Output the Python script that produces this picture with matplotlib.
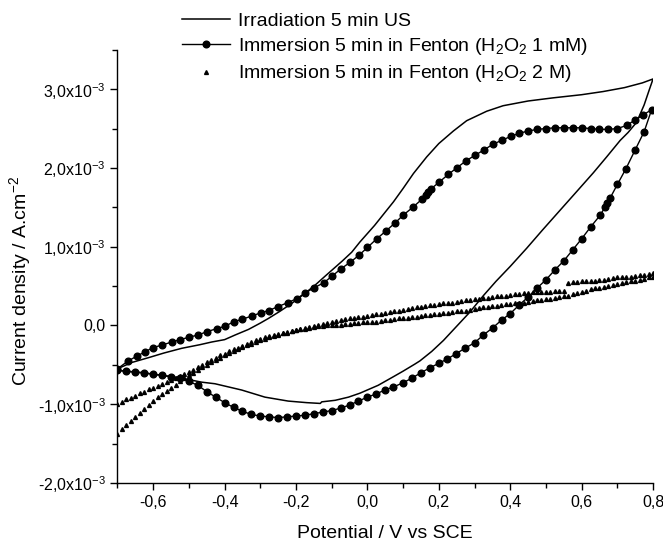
import matplotlib
matplotlib.use("Agg")
import matplotlib.pyplot as plt
import numpy as np

plt.rcParams['font.family'] = ['Liberation Sans', 'DejaVu Sans']
plt.rcParams['mathtext.fontset'] = 'custom'
plt.rcParams['mathtext.rm'] = 'Liberation Sans'
plt.rcParams['mathtext.it'] = 'Liberation Sans:italic'
plt.rcParams['mathtext.bf'] = 'Liberation Sans:bold'

# current density values in units of 1e-3 A.cm-2
# Irradiation 5 min US (full CV loop, forward then reverse)
us_v = [-0.70, -0.66, -0.614, -0.57, -0.52, -0.47, -0.436, -0.40, -0.37, -0.333,
        -0.30, -0.277, -0.245, -0.212, -0.18, -0.147, -0.12, -0.10, -0.07, -0.044,
        -0.021, 0.02, 0.05, 0.073, 0.10, 0.129, 0.166, 0.20, 0.241, 0.278,
        0.306, 0.334, 0.38, 0.45, 0.52, 0.60, 0.66, 0.72, 0.77, 0.80,
        0.79, 0.775, 0.754, 0.73, 0.708, 0.67, 0.633, 0.59, 0.539, 0.49,
        0.446, 0.40, 0.36, 0.325, 0.287, 0.25, 0.213, 0.18, 0.147, 0.133,
        0.10, 0.073, 0.03, -0.021, -0.053, -0.09, -0.128, -0.132, -0.17, -0.222,
        -0.287, -0.352, -0.427, -0.464, -0.52, -0.614, -0.70]
us_j = [-0.55, -0.47, -0.41, -0.35, -0.29, -0.245, -0.21, -0.18, -0.12, -0.05,
        0.03, 0.09, 0.18, 0.28, 0.39, 0.51, 0.62, 0.70, 0.82, 0.93,
        1.06, 1.27, 1.44, 1.57, 1.74, 1.93, 2.14, 2.31, 2.47, 2.60,
        2.66, 2.72, 2.79, 2.85, 2.89, 2.93, 2.97, 3.02, 3.08, 3.13,
        3.00, 2.80, 2.58, 2.45, 2.35, 2.14, 1.94, 1.72, 1.46, 1.21,
        0.98, 0.75, 0.56, 0.38, 0.17, -0.01, -0.19, -0.33, -0.45, -0.49,
        -0.58, -0.65, -0.76, -0.86, -0.91, -0.95, -0.97, -0.99, -0.98, -0.96,
        -0.91, -0.82, -0.74, -0.72, -0.67, -0.61, -0.57]

# Immersion 5 min in Fenton (H2O2 1 mM)
f1_v = [-0.70, -0.67, -0.646, -0.623, -0.60, -0.576, -0.548, -0.525, -0.50, -0.474,
        -0.45, -0.422, -0.399, -0.373, -0.35, -0.324, -0.299, -0.276, -0.25, -0.223,
        -0.198, -0.175, -0.149, -0.123, -0.098, -0.074, -0.049, -0.024, 0.0, 0.026,
        0.052, 0.077, 0.10, 0.127, 0.152, 0.163, 0.170, 0.177, 0.201, 0.227,
        0.25, 0.276, 0.301, 0.327, 0.351, 0.376, 0.401, 0.425, 0.451, 0.476,
        0.50, 0.525, 0.551, 0.575, 0.60, 0.625, 0.65, 0.675, 0.70, 0.726,
        0.75, 0.771, 0.796,
        0.775, 0.75, 0.724, 0.70, 0.68, 0.672, 0.665, 0.652, 0.625, 0.60,
        0.575, 0.55, 0.526, 0.50, 0.474, 0.45, 0.425, 0.40, 0.376, 0.351,
        0.325, 0.30, 0.273, 0.248, 0.222, 0.20, 0.174, 0.15, 0.124, 0.099,
        0.073, 0.049, 0.024, 0.0, -0.025, -0.05, -0.075, -0.10, -0.125, -0.15,
        -0.175, -0.20, -0.225, -0.25, -0.275, -0.30, -0.325, -0.35, -0.375, -0.40,
        -0.425, -0.45, -0.475, -0.50, -0.525, -0.55, -0.575, -0.60, -0.625, -0.65,
        -0.675, -0.70]
f1_j = [-0.55, -0.45, -0.39, -0.335, -0.28, -0.25, -0.21, -0.18, -0.15, -0.12,
        -0.08, -0.04, -0.01, 0.05, 0.08, 0.12, 0.16, 0.19, 0.24, 0.29,
        0.34, 0.41, 0.48, 0.54, 0.63, 0.72, 0.80, 0.89, 0.99, 1.10,
        1.20, 1.30, 1.40, 1.50, 1.60, 1.66, 1.69, 1.73, 1.82, 1.92,
        2.00, 2.09, 2.16, 2.23, 2.30, 2.35, 2.40, 2.44, 2.47, 2.49,
        2.50, 2.51, 2.51, 2.51, 2.51, 2.50, 2.49, 2.49, 2.50, 2.54,
        2.61, 2.67, 2.74,
        2.46, 2.23, 1.99, 1.79, 1.62, 1.55, 1.50, 1.40, 1.25, 1.10,
        0.96, 0.82, 0.71, 0.58, 0.47, 0.36, 0.26, 0.15, 0.07, -0.03,
        -0.12, -0.22, -0.29, -0.36, -0.43, -0.48, -0.54, -0.60, -0.67, -0.73,
        -0.78, -0.82, -0.87, -0.91, -0.96, -1.01, -1.05, -1.08, -1.10, -1.12,
        -1.14, -1.15, -1.16, -1.17, -1.16, -1.15, -1.13, -1.09, -1.04, -0.98,
        -0.91, -0.84, -0.76, -0.71, -0.67, -0.65, -0.63, -0.62, -0.60, -0.59,
        -0.58, -0.57]

# Immersion 5 min in Fenton (H2O2 2 M): sampled every 12.5 mV
f2_v = np.linspace(-0.7, 0.8, 121)
f2_up = [-1.38, -1.32, -1.27, -1.21, -1.16, -1.11, -1.06, -1.01, -0.96, -0.91,
         -0.87, -0.83, -0.79, -0.75, -0.71, -0.67, -0.63, -0.60, -0.56, -0.53,
         -0.50, -0.47, -0.44, -0.41, -0.38, -0.35, -0.32, -0.30, -0.27, -0.25,
         -0.23, -0.21, -0.19, -0.17, -0.15, -0.14, -0.12, -0.10, -0.09, -0.07,
         -0.06, -0.05, -0.03, -0.02, -0.01, 0.01, 0.02, 0.03, 0.05, 0.06,
         0.07, 0.08, 0.09, 0.10, 0.11, 0.11, 0.12, 0.13, 0.14, 0.15,
         0.16, 0.17, 0.18, 0.19, 0.20, 0.21, 0.22, 0.23, 0.24, 0.25,
         0.26, 0.26, 0.27, 0.28, 0.29, 0.29, 0.30, 0.31, 0.32, 0.32,
         0.33, 0.34, 0.35, 0.35, 0.36, 0.37, 0.38, 0.38, 0.39, 0.40,
         0.40, 0.41, 0.41, 0.42, 0.42, 0.43, 0.43, 0.43, 0.44, 0.44,
         0.44, 0.54, 0.55, 0.55, 0.56, 0.56, 0.57, 0.57, 0.58, 0.58,
         0.59, 0.60, 0.61, 0.61, 0.62, 0.62, 0.63, 0.64, 0.64, 0.65,
         0.66]
f2_low = [-1.00, -0.97, -0.94, -0.915, -0.89, -0.86, -0.84, -0.81, -0.79, -0.77,
          -0.745, -0.72, -0.69, -0.67, -0.64, -0.61, -0.59, -0.56, -0.53, -0.50,
          -0.47, -0.44, -0.41, -0.38, -0.36, -0.33, -0.30, -0.28, -0.26, -0.23,
          -0.21, -0.19, -0.17, -0.15, -0.14, -0.12, -0.11, -0.09, -0.08, -0.07,
          -0.06, -0.05, -0.04, -0.03, -0.02, -0.01, -0.01, 0.00, 0.00, 0.01,
          0.01, 0.02, 0.02, 0.03, 0.03, 0.04, 0.04, 0.05, 0.05, 0.06,
          0.07, 0.07, 0.08, 0.09, 0.09, 0.10, 0.11, 0.11, 0.12, 0.13,
          0.13, 0.14, 0.15, 0.16, 0.16, 0.17, 0.18, 0.19, 0.19, 0.20,
          0.21, 0.22, 0.23, 0.24, 0.25, 0.25, 0.26, 0.27, 0.27, 0.28,
          0.29, 0.29, 0.30, 0.31, 0.32, 0.32, 0.33, 0.34, 0.35, 0.36,
          0.37, 0.38, 0.40, 0.41, 0.42, 0.44, 0.46, 0.47, 0.48, 0.49,
          0.50, 0.52, 0.53, 0.54, 0.55, 0.56, 0.57, 0.58, 0.59, 0.61,
          0.62]

labels = ['Irradiation 5 min US',
          r'Immersion 5 min in Fenton (H$_2$O$_2$ 1 mM)',
          r'Immersion 5 min in Fenton (H$_2$O$_2$ 2 M)']

x_major = [-0.6, -0.4, -0.2, 0.0, 0.2, 0.4, 0.6, 0.8]
x_labels = ['-0,6', '-0,4', '-0,2', '0,0', '0,2', '0,4', '0,6', '0,8']
y_major = [-2e-3, -1e-3, 0.0, 1e-3, 2e-3, 3e-3]
y_labels = [r'-2,0x10$^{\mathregular{-3}}$', r'-1,0x10$^{\mathregular{-3}}$', '0,0',
            r'1,0x10$^{\mathregular{-3}}$', r'2,0x10$^{\mathregular{-3}}$',
            r'3,0x10$^{\mathregular{-3}}$']

fig = plt.figure(figsize=(6.63, 5.45), dpi=100)
ax = fig.add_axes([0.1772, 0.1138, 0.985 - 0.1772, 0.9086 - 0.1138])

k = 1e-3
l1, = ax.plot(us_v, np.array(us_j) * k, color='black', lw=1.1)
l2, = ax.plot(f1_v, np.array(f1_j) * k, color='black', lw=1.0,
              marker='o', markersize=4.8)
l3, = ax.plot(np.concatenate([f2_v, f2_v]),
              np.concatenate([f2_up, f2_low]) * k,
              linestyle='none', color='black', marker='^', markersize=2.8)

ax.set_xlim(-0.7, 0.8)
ax.set_ylim(-2e-3, 3.5e-3)
ax.spines['top'].set_visible(False)
ax.spines['right'].set_visible(False)
for s in ['left', 'bottom']:
    ax.spines[s].set_linewidth(1.0)

ax.set_xticks(x_major)
ax.set_xticklabels(x_labels)
ax.set_xticks(np.arange(-0.7, 0.8, 0.2), minor=True)
ax.set_yticks(y_major)
ax.set_yticklabels(y_labels)
ax.set_yticks(np.arange(-1.5e-3, 3.6e-3, 1e-3), minor=True)
ax.tick_params(which='major', direction='out', length=5, width=1.0,
               labelsize=11.5, colors='black')
ax.tick_params(which='minor', direction='out', length=3.5, width=1.0)

ax.set_xlabel('Potential / V vs SCE', fontsize=14, labelpad=11)
ax.set_ylabel(r'Current density / A.cm$^{\mathregular{-2}}$', fontsize=14)
ax.yaxis.set_label_coords(-0.158, 0.466)

fig.legend([l1, l2, l3], labels, loc='upper left',
           bbox_to_anchor=(182 / 663, 1 - 12 / 545), frameon=False,
           fontsize=14, handlelength=2.47, handletextpad=0.4,
           labelspacing=0.33, borderpad=0, borderaxespad=0, numpoints=1)

fig.savefig('out.png', dpi=100)
